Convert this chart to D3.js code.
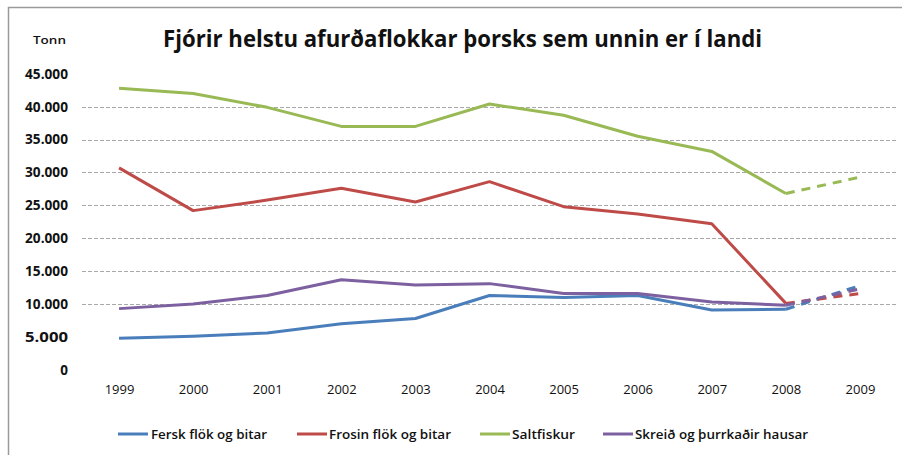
<!DOCTYPE html>
<html>
<head>
<meta charset="utf-8">
<script src="https://cdn.jsdelivr.net/npm/d3@7"></script>
<style>
  body { margin: 0; background: #fff; }
  text { font-family: "Open Sans", "Noto Sans", sans-serif; fill: #111; }
</style>
</head>
<body>
<div id="chart"></div>
<script>
var width = 902, height = 455;

// data (tonn)
var years = ["1999","2000","2001","2002","2003","2004","2005","2006","2007","2008","2009"];
var fersk   = [4800, 5100, 5600, 7000, 7800, 11300, 11000, 11300, 9100, 9200, 12800];
var frosin  = [30700, 24200, 25800, 27600, 25500, 28600, 24800, 23700, 22200, 10100, 11600];
var salt    = [42800, 42000, 39900, 37000, 37000, 40400, 38700, 35500, 33200, 26800, 29300];
var skreid  = [9300, 10000, 11300, 13700, 12900, 13100, 11600, 11600, 10300, 9800, 12300];
var seriesNames = ["Fersk flök og bitar", "Frosin flök og bitar", "Saltfiskur", "Skreið og þurrkaðir hausar"];
var yTicks = [0, 5000, 10000, 15000, 20000, 25000, 30000, 35000, 40000, 45000];
var gridTicks = [10000, 15000, 20000, 25000, 30000, 35000, 40000];

var colors = ["#4a7ebb", "#be4b48", "#98b954", "#7d60a0"];
var series = [fersk, frosin, salt, skreid].map(function(v, i){
    return {name: seriesNames[i], color: colors[i], values: v};
});

var svg = d3.select("#chart").append("svg")
    .attr("width", width).attr("height", height);

// chart frame (only top/left visible in the reference)
svg.append("path")
    .attr("d", "M8.5,455 V7.5 H902")
    .attr("fill", "none").attr("stroke", "#9a9a9a").attr("stroke-width", 1.5);

var x = d3.scalePoint().domain(years).range([82, 897]).padding(0.5);
var y = d3.scaleLinear().domain([0, 45000]).range([369.8, 73.8]);

var fmt = function(d){ return d3.format(",")(d).replace(/,/g, "."); };

// gridlines
svg.append("g").selectAll("line")
    .data(gridTicks).enter().append("line")
    .attr("x1", 82).attr("x2", 897)
    .attr("y1", d => Math.round(y(d)) + 0.5).attr("y2", d => Math.round(y(d)) + 0.5)
    .attr("stroke", "#a8a8a8").attr("stroke-width", 1)
    .attr("stroke-dasharray", "4,2");

// y axis labels
var yAxis = d3.axisLeft(y).tickValues(yTicks).tickFormat(fmt).tickSize(0).tickPadding(0);
var ya = svg.append("g").attr("transform", "translate(68,0)").call(yAxis);
ya.select(".domain").remove();
ya.selectAll("text").style("font-size", "13.5px").style("font-weight", "bold")
    .style("font-family", "'Open Sans', sans-serif").attr("fill", "#111")
    .attr("textLength", function(d){ return d === 0 ? null : 43; })
    .attr("lengthAdjust", "spacingAndGlyphs");

// x axis labels
var xAxis = d3.axisBottom(x).tickSize(0).tickPadding(0);
var xa = svg.append("g").attr("transform", "translate(0,385)").call(xAxis);
xa.select(".domain").remove();
xa.selectAll("text").style("font-size", "13px")
    .style("font-family", "'Open Sans', sans-serif").attr("fill", "#222");

// lines
var line = d3.line().x(d => x(d.year)).y(d => y(d.value));

series.forEach(function(s){
    var pts = s.values.map(function(v, i){ return {year: years[i], value: v}; });
    svg.append("path")
        .datum(pts.slice(0, 10))
        .attr("fill", "none").attr("stroke", s.color).attr("stroke-width", 3)
        .attr("stroke-linejoin", "round")
        .attr("d", line);
    svg.append("path")
        .datum(pts.slice(9))
        .attr("fill", "none").attr("stroke", s.color).attr("stroke-width", 3)
        .attr("stroke-dasharray", "9,7")
        .attr("d", line);
});

// title
svg.append("text")
    .attr("x", 163).attr("y", 47)
    .attr("textLength", 599).attr("lengthAdjust", "spacingAndGlyphs")
    .style("font-size", "23px").style("font-weight", "bold")
    .text("Fjórir helstu afurðaflokkar þorsks sem unnin er í landi");

svg.append("text")
    .attr("x", 33).attr("y", 44)
    .attr("textLength", 33).attr("lengthAdjust", "spacingAndGlyphs")
    .style("font-size", "11.5px").style("font-weight", "600")
    .text("Tonn");

// legend
var legendPos = [
    {lx: 118, tx: 151, tw: 116},
    {lx: 297, tx: 329, tw: 122},
    {lx: 480, tx: 512, tw: 63},
    {lx: 603, tx: 635, tw: 173}
];
var lg = svg.append("g").selectAll("g").data(series).enter().append("g");
lg.append("line")
    .attr("x1", (d, i) => legendPos[i].lx).attr("x2", (d, i) => legendPos[i].lx + 30)
    .attr("y1", 434).attr("y2", 434)
    .attr("stroke", d => d.color).attr("stroke-width", 3);
lg.append("text")
    .attr("x", (d, i) => legendPos[i].tx).attr("y", 439)
    .attr("textLength", (d, i) => legendPos[i].tw).attr("lengthAdjust", "spacingAndGlyphs")
    .style("font-size", "13px").style("font-weight", "600")
    .text(d => d.name);
</script>
</body>
</html>
